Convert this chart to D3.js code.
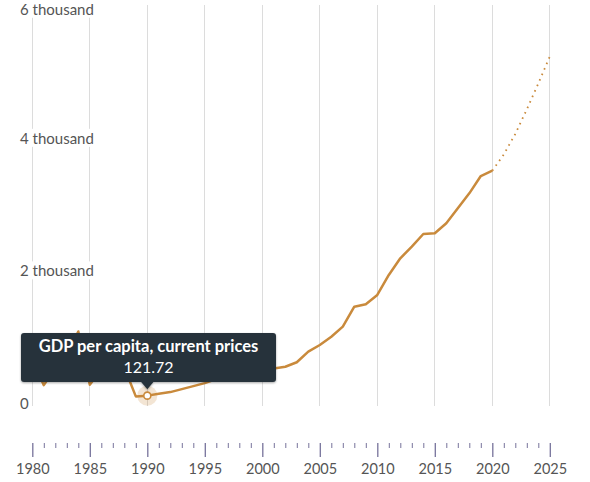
<!DOCTYPE html>
<html>
<head>
<meta charset="utf-8">
<script src="https://cdn.jsdelivr.net/npm/d3@7"></script>
<style>
  html, body { margin: 0; padding: 0; background: #fff; }
  svg { display: block; font-family: Lato, "Open Sans", sans-serif; }
</style>
</head>
<body>
<svg id="chart" width="590" height="482"></svg>
<script>
// ---- data ----
const years = [1980,1981,1982,1983,1984,1985,1986,1987,1988,1989,
               1990,1991,1992,1993,1994,1995,1996,1997,1998,1999,
               2000,2001,2002,2003,2004,2005,2006,2007,2008,2009,
               2010,2011,2012,2013,2014,2015,2016,2017,2018,2019,2020];
const gdpPerCapita = [665,280,530,735,1090,285,520,720,545,110,
                      121.72,150,175,220,265,310,370,400,405,420,
                      480,530,558,625,785,886,1011,1162,1463,1500,
                      1640,1942,2194,2369,2560,2571,2722,2948,3174,3435,3515];
const projYears = [2020,2021,2022,2023,2024,2025];
const projValues = [3515,3760,4070,4440,4830,5240];
const yTicks = [0,2000,4000,6000];
const yTickLabels = ["0","2 thousand","4 thousand","6 thousand"];
const xMajorTicks = [1980,1985,1990,1995,2000,2005,2010,2015,2020,2025];
const xMinorTicks = d3.range(1980, 2026);
const tooltipTitle = "GDP per capita, current prices";
const tooltipYear = 1990;
const tooltipValue = "121.72";

// ---- scales ----
const x = d3.scaleLinear().domain([1980, 2025]).range([32.3, 549.8]);
const y = d3.scaleLinear().domain([0, 6000]).range([403.7, 6]);

const svg = d3.select("#chart");
const lineColor = "#c98a3c";

// vertical gridlines
svg.append("g").selectAll("line").data(xMajorTicks).join("line")
  .attr("x1", d => x(d)).attr("x2", d => x(d))
  .attr("y1", 5).attr("y2", 406)
  .attr("stroke", "#dcdcdc").attr("stroke-width", 1)
  .attr("shape-rendering", "crispEdges");

// y labels with white backgrounds
const yl = svg.append("g").selectAll("g").data(yTicks).join("g")
  .attr("transform", d => `translate(20,${Math.max(y(d), 9.5)})`);
yl.append("text")
  .attr("x", 0).attr("dy", "0.35em")
  .attr("font-size", 15).attr("fill", "#555")
  .text((d, i) => yTickLabels[i]);
yl.each(function() {
  const g = d3.select(this);
  const bb = g.select("text").node().getBBox();
  g.insert("rect", "text")
    .attr("x", bb.x - 1).attr("y", bb.y)
    .attr("width", bb.width + 2).attr("height", bb.height)
    .attr("fill", "#fff");
});

// main line
const line = d3.line().x(d => x(d[0])).y(d => y(d[1]));
svg.append("path")
  .datum(years.map((yr, i) => [yr, gdpPerCapita[i]]))
  .attr("d", line)
  .attr("fill", "none").attr("stroke", lineColor)
  .attr("stroke-width", 2.5).attr("stroke-linejoin", "round");

// projection (dotted)
svg.append("path")
  .datum(projYears.map((yr, i) => [yr, projValues[i]]))
  .attr("d", line)
  .attr("fill", "none").attr("stroke", lineColor)
  .attr("stroke-width", 1.8).attr("stroke-dasharray", "1.6 4.4");

// highlighted point
const hv = gdpPerCapita[years.indexOf(tooltipYear)];
svg.append("circle").attr("cx", x(tooltipYear)).attr("cy", y(hv))
  .attr("r", 10).attr("fill", lineColor).attr("opacity", 0.22);
svg.append("circle").attr("cx", x(tooltipYear)).attr("cy", y(hv))
  .attr("r", 3.5).attr("fill", "#fff").attr("stroke", lineColor).attr("stroke-width", 1.6);

// tooltip
const defs = svg.append("defs");
const f = defs.append("filter").attr("id", "shadow")
  .attr("x", "-10%").attr("y", "-20%").attr("width", "120%").attr("height", "150%");
f.append("feDropShadow").attr("dx", 0).attr("dy", 1).attr("stdDeviation", 1.2)
  .attr("flood-color", "#000").attr("flood-opacity", 0.35);

const tx = x(tooltipYear), ty = y(hv);
const tw = 255, th = 49;
const tip = svg.append("g").attr("filter", "url(#shadow)");
tip.append("rect")
  .attr("x", 21).attr("y", 333).attr("width", tw).attr("height", th)
  .attr("rx", 3).attr("fill", "#28323b");
tip.append("path")
  .attr("d", `M${tx - 7},381 L${tx + 7},381 L${tx},${ty - 6.5} Z`)
  .attr("fill", "#28323b");
svg.append("text")
  .attr("x", 148.5).attr("y", 352)
  .attr("text-anchor", "middle").attr("font-size", 16.5).attr("font-weight", 700)
  .attr("fill", "#fff").text(tooltipTitle);
svg.append("text")
  .attr("x", 148.5).attr("y", 373)
  .attr("text-anchor", "middle").attr("font-size", 16)
  .attr("fill", "#fff").text(tooltipValue);

// bottom axis (range slider ticks)
const tickColor = "#77739b";
const minorAxis = d3.axisBottom(x).tickValues(xMinorTicks.filter(d => d % 5 !== 0))
  .tickSize(5).tickFormat("");
const gMinor = svg.append("g").attr("transform", "translate(0,443)").call(minorAxis);
gMinor.select(".domain").remove();
gMinor.selectAll(".tick line").attr("stroke", tickColor).attr("stroke-width", 1);

const majorAxis = d3.axisBottom(x).tickValues(xMajorTicks)
  .tickSize(14).tickPadding(7).tickFormat(d3.format("d"));
const gMajor = svg.append("g").attr("transform", "translate(0,443)").call(majorAxis);
gMajor.select(".domain").remove();
gMajor.selectAll(".tick line").attr("stroke", tickColor).attr("stroke-width", 1.3);
gMajor.selectAll(".tick text").attr("fill", "#555").attr("font-size", 14.5)
  .attr("font-family", "Lato, 'Open Sans', sans-serif");
</script>
</body>
</html>
